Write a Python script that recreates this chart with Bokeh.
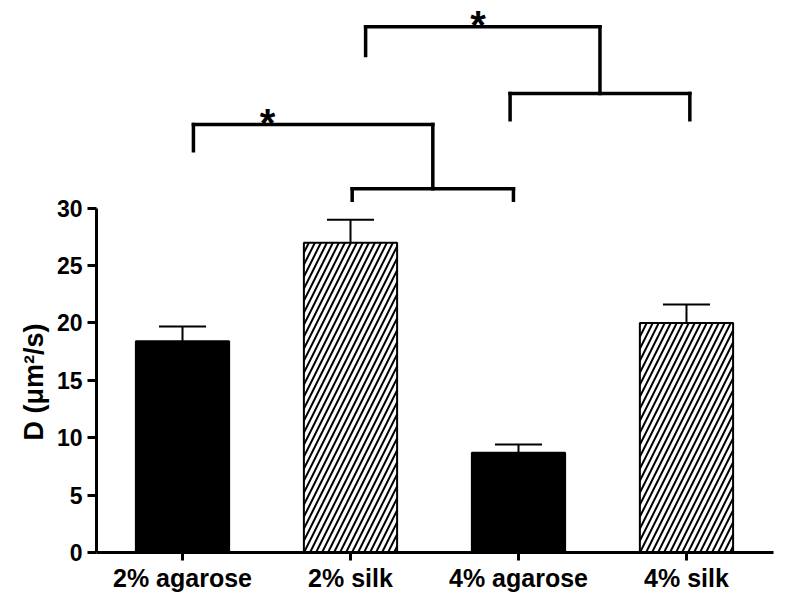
from bokeh.plotting import figure
from bokeh.models import FixedTicker, Range1d, Title
from bokeh.core.properties import value
from bokeh.embed import file_html
from bokeh.resources import INLINE

# ---- data -------------------------------------------------------------
categories = ["2% agarose", "2% silk", "4% agarose", "4% silk"]
means = [18.4, 27.0, 8.7, 20.0]
sems = [1.3, 2.0, 0.7, 1.6]
hatched = [False, True, False, True]
y_ticks = [0, 5, 10, 15, 20, 25, 30]
y_label = "D (\u03bcm\u00b2/s)"

# significance brackets: single group (index) vs. a pair of groups
bracket_single = [0, 1]
bracket_pair = [(1, 2), (2, 3)]
bracket_top = [37.3, 45.8]         # height of upper horizontal line
bracket_single_end = [35.0, 43.3]  # bottom of the single group's leg
bracket_low = [31.7, 40.0]         # height of the pair's horizontal line
bracket_pair_end = [30.7, 37.7]    # bottom of the pair's legs
bracket_star = ["*", "*"]

# ---- styling -----------------------------------------------------------
FONT = "Liberation Sans"
centers = [i + 0.5 for i in range(len(categories))]
bar_w = 0.555
cap_half = 0.14

p = figure(width=777, height=595, output_backend="svg", toolbar_location=None,
           x_range=Range1d(-0.012, 4.018), y_range=Range1d(0, 47.4),
           min_border_left=96, min_border_right=4, min_border_top=8,
           min_border_bottom=43)
p.outline_line_color = None
p.xgrid.visible = False
p.ygrid.visible = False
p.background_fill_color = "white"
p.border_fill_color = "white"

# bars
solid_x = [c for c, h in zip(centers, hatched) if not h]
solid_y = [m for m, h in zip(means, hatched) if not h]
hatch_x = [c for c, h in zip(centers, hatched) if h]
hatch_y = [m for m, h in zip(means, hatched) if h]
p.vbar(x=solid_x, top=solid_y, bottom=0, width=bar_w, fill_color="black",
       line_color="black", line_width=2)
p.vbar(x=hatch_x, top=hatch_y, bottom=0, width=bar_w, fill_color="white",
       line_color="black", line_width=2, hatch_pattern="right_diagonal_line",
       hatch_color="black", hatch_scale=12, hatch_weight=2)

# error bars (upper only)
err_top = [m + s for m, s in zip(means, sems)]
p.segment(x0=centers, y0=means, x1=centers, y1=err_top, line_color="black",
          line_width=2)
p.segment(x0=[c - cap_half for c in centers], y0=err_top,
          x1=[c + cap_half for c in centers], y1=err_top,
          line_color="black", line_width=2)

# significance brackets
bx0, by0, bx1, by1 = [], [], [], []
star_x, star_y = [], []
for k in range(len(bracket_single)):
    a, b = bracket_pair[k]
    pl = centers[a] + 0.01
    pr = centers[b] - 0.03 if k == 0 else centers[b] + 0.02
    if k == 1:
        pl = centers[a] - 0.05
    pm = (pl + pr) / 2
    sx = centers[bracket_single[k]] + (0.065 if k == 0 else 0.09)
    # pair lower bracket
    bx0 += [pl, pl, pr]
    by0 += [bracket_low[k], bracket_low[k], bracket_low[k]]
    bx1 += [pr, pl, pr]
    by1 += [bracket_low[k], bracket_pair_end[k], bracket_pair_end[k]]
    # upper bracket
    bx0 += [sx, sx, pm]
    by0 += [bracket_top[k], bracket_top[k], bracket_top[k]]
    bx1 += [pm, sx, pm]
    by1 += [bracket_top[k], bracket_single_end[k], bracket_low[k]]
    frac = 0.31 if k == 0 else 0.48
    star_x.append(sx + frac * (pm - sx))
    star_y.append(bracket_top[k] + 0.15)
p.segment(x0=bx0, y0=by0, x1=bx1, y1=by1, line_color="black", line_width=3.5,
          line_cap="square")
p.text(x=star_x, y=star_y, text=bracket_star, text_font=value(FONT),
       text_font_style="bold", text_font_size="40px", text_align="center",
       text_baseline="alphabetic", text_color="black")

# axes
p.xaxis.ticker = FixedTicker(ticks=centers)
p.xaxis.major_label_overrides = {c: lab for c, lab in zip(centers, categories)}
p.xaxis.minor_tick_line_color = None
p.xaxis.axis_line_width = 3
p.xaxis.major_tick_line_width = 3
p.xaxis.major_tick_out = 8
p.xaxis.major_tick_in = 0
p.xaxis.major_label_text_font = FONT
p.xaxis.major_label_text_font_style = "bold"
p.xaxis.major_label_text_font_size = "25px"
p.xaxis.major_label_text_color = "black"
p.xaxis.major_label_standoff = 3

p.yaxis.ticker = FixedTicker(ticks=y_ticks)
p.yaxis.bounds = (0, 30)
p.yaxis.minor_tick_line_color = None
p.yaxis.axis_line_width = 3
p.yaxis.major_tick_line_width = 3
p.yaxis.major_tick_out = 9
p.yaxis.major_tick_in = 0
p.yaxis.major_label_text_font = FONT
p.yaxis.major_label_text_font_style = "bold"
p.yaxis.major_label_text_font_size = "23px"
p.yaxis.major_label_text_color = "black"
p.yaxis.major_label_standoff = 5

# y-axis title, placed so it is centred on the bounded (0-30) axis
p.add_layout(Title(text=y_label, align="left", offset=112,
                   text_font=FONT, text_font_style="bold",
                   text_font_size="27px", text_color="black",
                   standoff=9), "left")

open("out.html", "w").write(file_html(p, INLINE))
